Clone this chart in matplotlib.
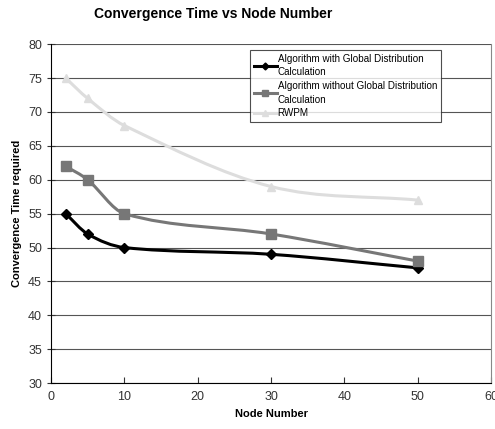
import matplotlib.pyplot as plt
from matplotlib.path import Path
from matplotlib.patches import PathPatch

plt.rcParams['font.family'] = ['Liberation Sans', 'DejaVu Sans']

nodes = [2, 5, 10, 30, 50]
with_global = [55, 52, 50, 49, 47]
without_global = [62, 60, 55, 52, 48]
rwpm = [75, 72, 68, 59, 57]

labels = ["Algorithm with Global Distribution\nCalculation",
          "Algorithm without Global Distribution\nCalculation",
          "RWPM"]
colors = ["#000000", "#777777", "#dddddd"]
markers = ["D", "s", "^"]
sizes = [5, 7, 6]


def smooth_path(xs, ys):
    # smoothed line through the points, bezier handles along neighbour slope
    n = len(xs)
    slopes = []
    for i in range(n):
        a = max(i - 1, 0)
        b = min(i + 1, n - 1)
        slopes.append((ys[b] - ys[a]) / (xs[b] - xs[a]))
    verts = [(xs[0], ys[0])]
    codes = [Path.MOVETO]
    for i in range(n - 1):
        h = (xs[i + 1] - xs[i]) / 3
        verts += [(xs[i] + h, ys[i] + slopes[i] * h),
                  (xs[i + 1] - h, ys[i + 1] - slopes[i + 1] * h),
                  (xs[i + 1], ys[i + 1])]
        codes += [Path.CURVE4] * 3
    return Path(verts, codes)


fig = plt.figure(figsize=(4.95, 4.29), dpi=100)
ax = fig.add_axes([0.103, 0.107, 0.889, 0.79])

for ys, lab, c, m, s in zip([with_global, without_global, rwpm], labels, colors, markers, sizes):
    ax.add_patch(PathPatch(smooth_path(nodes, ys), fill=False, edgecolor=c, lw=2.2, zorder=3))
    ax.plot(nodes, ys, linestyle='none', marker=m, color=c, markersize=s, zorder=4)
    ax.plot([], [], color=c, lw=2.2, marker=m, markersize=s, label=lab)

ax.set_xlim(0, 60)
ax.set_ylim(30, 80)
ax.set_xticks(range(0, 61, 10))
ax.set_yticks(range(30, 81, 5))
ax.yaxis.grid(True, color='#555555', lw=0.8)
ax.set_axisbelow(True)
ax.tick_params(axis='y', direction='inout', length=6, labelsize=9, colors='#333333')
ax.tick_params(axis='x', direction='in', length=4, labelsize=9, colors='#333333', pad=6)
ax.spines['right'].set_color('#888888')
ax.spines['top'].set_visible(False)

ax.set_xlabel("Node Number", fontsize=8, fontweight='bold')
ax.set_ylabel("Convergence Time required", fontsize=8, fontweight='bold')
fig.text(0.19, 0.968, "Convergence Time vs Node Number", fontsize=10, fontweight='bold', va='center')

leg = ax.legend(loc='upper left', bbox_to_anchor=(0.452, 0.983), fontsize=7.1, frameon=True,
                fancybox=False, edgecolor='#222222', handlelength=2.3, handletextpad=0.1,
                borderpad=0.4, labelspacing=0.35, markerscale=0.7, borderaxespad=0)
leg.get_frame().set_linewidth(0.8)
for t in leg.get_texts():
    t.set_linespacing(1.45)
leg._legend_box.set_height(None)

fig.savefig('out.png', dpi=100)
